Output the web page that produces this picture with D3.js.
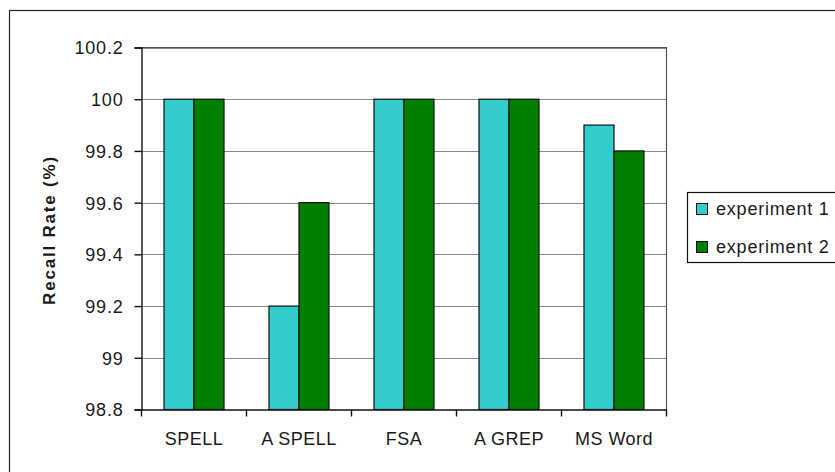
<!DOCTYPE html>
<html>
<head>
<meta charset="utf-8">
<script src="https://cdn.jsdelivr.net/npm/d3@7"></script>
<style>
  html, body { margin: 0; padding: 0; background: #fff; }
  svg { display: block; }
  text { font-family: "Liberation Sans", Arial, sans-serif; fill: #1a1a1a; }
</style>
</head>
<body>
<svg id="chart" width="835" height="472"></svg>
<script>
// Recall rate per spelling tool, two experiments
const categories = ["SPELL", "A SPELL", "FSA", "A GREP", "MS Word"];
const seriesNames = ["experiment 1", "experiment 2"];
const experiment1 = [100, 99.2, 100, 100, 99.9];
const experiment2 = [100, 99.6, 100, 100, 99.8];
const yTicks = [98.8, 99, 99.2, 99.4, 99.6, 99.8, 100, 100.2];
const colors = ["#33CCCC", "#008000"];

const svg = d3.select("#chart");
const FONT = '"Liberation Sans", Arial, sans-serif';

// outer chart frame
svg.append("rect")
  .attr("x", 9.5).attr("y", 10.5)
  .attr("width", 840).attr("height", 480)
  .attr("fill", "#fff").attr("stroke", "#222").attr("stroke-width", 1.2);

const plot = { left: 141.5, right: 666.5, top: 47.5, bottom: 409.5 };

const x = d3.scaleBand()
  .domain(categories)
  .range([plot.left, plot.right])
  .padding(0);

const y = d3.scaleLinear()
  .domain([98.8, 100.2])
  .range([plot.bottom, plot.top]);

const barW = 30;

// gridlines
svg.append("g")
  .selectAll("line")
  .data(yTicks.slice(1))
  .join("line")
  .attr("x1", plot.left).attr("x2", plot.right)
  .attr("y1", d => Math.round(y(d)) + 0.5).attr("y2", d => Math.round(y(d)) + 0.5)
  .attr("stroke", "#8a8a8a").attr("stroke-width", 1);

// plot area border (top/right)
svg.append("path")
  .attr("d", `M${plot.left},${plot.top}H${plot.right}V${plot.bottom}`)
  .attr("fill", "none").attr("stroke", "#555").attr("stroke-width", 1.2);

// bars
const series = [experiment1, experiment2];
series.forEach((vals, si) => {
  svg.append("g")
    .selectAll("rect")
    .data(categories.map((c, i) => ({ c, v: vals[i] })))
    .join("rect")
    .attr("x", d => x(d.c) + x.bandwidth() / 2 - barW + si * barW)
    .attr("y", d => y(d.v))
    .attr("width", barW)
    .attr("height", d => y(98.8) - y(d.v))
    .attr("fill", colors[si])
    .attr("stroke", "#111").attr("stroke-width", 1.2);
});

// y axis
const yAxis = d3.axisLeft(y)
  .tickValues(yTicks)
  .tickFormat(d => String(+d.toFixed(1)))
  .tickSize(7)
  .tickPadding(11);
const gy = svg.append("g")
  .attr("transform", `translate(${plot.left},0)`)
  .call(yAxis);
gy.select(".domain").attr("stroke", "#111").attr("stroke-width", 1.4);
gy.selectAll(".tick line").attr("stroke", "#111").attr("stroke-width", 1.4);
gy.selectAll(".tick text")
  .attr("font-size", 18).attr("fill", "#1a1a1a")
  .attr("letter-spacing", 0.8)
  .attr("dy", "0.36em")
  .style("font-family", FONT);

// x axis
const xAxis = d3.axisBottom(x).tickSize(0).tickPadding(23);
const gx = svg.append("g")
  .attr("transform", `translate(0,${plot.bottom})`)
  .call(xAxis);
gx.select(".domain").attr("stroke", "#111").attr("stroke-width", 1.4);
gx.selectAll(".tick text")
  .attr("font-size", 18).attr("fill", "#1a1a1a")
  .attr("letter-spacing", 0.5)
  .style("font-family", FONT);

// category separator ticks
svg.append("g")
  .selectAll("line")
  .data(categories.map(c => x(c)).concat([plot.right]))
  .join("line")
  .attr("x1", d => d).attr("x2", d => d)
  .attr("y1", plot.bottom).attr("y2", plot.bottom + 7)
  .attr("stroke", "#111").attr("stroke-width", 1.4);

// y axis title
svg.append("text")
  .attr("transform", `translate(55,230) rotate(-90)`)
  .attr("text-anchor", "middle")
  .attr("font-size", 17).attr("font-weight", "bold")
  .attr("letter-spacing", 1.8)
  .text("Recall Rate (%)");

// legend
const legend = svg.append("g");
legend.append("rect")
  .attr("x", 687.5).attr("y", 192.5)
  .attr("width", 170).attr("height", 70)
  .attr("fill", "#fff").attr("stroke", "#111").attr("stroke-width", 1.2);
seriesNames.forEach((name, i) => {
  const base = 215 + i * 38;
  legend.append("rect")
    .attr("x", 696.5).attr("y", base - 11.5)
    .attr("width", 11).attr("height", 11)
    .attr("fill", colors[i]).attr("stroke", "#111").attr("stroke-width", 1);
  legend.append("text")
    .attr("x", 716).attr("y", base)
    .attr("font-size", 18)
    .attr("letter-spacing", 0.8)
    .text(name);
});
</script>
</body>
</html>
